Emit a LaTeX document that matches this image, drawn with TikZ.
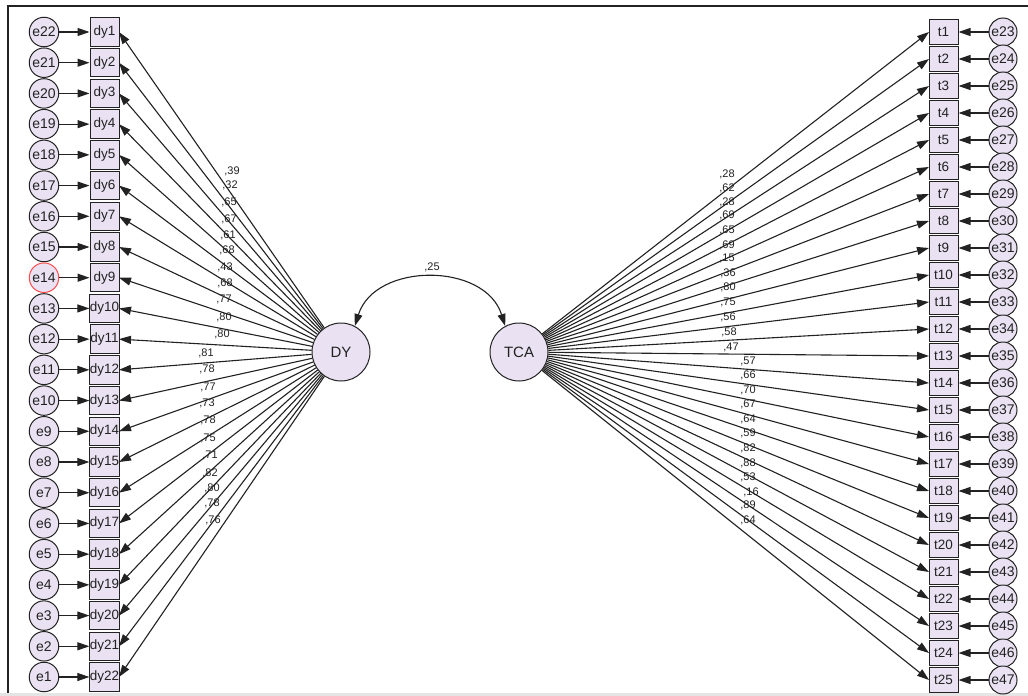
\documentclass[tikz,border=0pt]{standalone}
\usepackage{fontspec}
\setmainfont{Liberation Sans}
\usetikzlibrary{arrows.meta}
\definecolor{boxfill}{HTML}{EAE2F2}
\definecolor{ink}{HTML}{222222}
\begin{document}
\begin{tikzpicture}[x=1pt,y=-1pt,
  obs/.style={draw=ink, fill=boxfill, minimum width=29pt, minimum height=28.5pt, inner sep=0pt, text=ink, font=\fontsize{13.5}{13.5}\selectfont, line width=1pt},
  obsr/.style={obs, minimum height=25pt},
  err/.style={circle, draw=ink, fill=boxfill, minimum size=29.5pt, inner sep=0pt, text=ink, font=\fontsize{14}{14}\selectfont, line width=1pt},
  errr/.style={err, minimum size=28pt},
  lat/.style={circle, draw=ink, fill=boxfill, minimum size=58pt, inner sep=0pt, text=ink, font=\fontsize{15}{15}\selectfont, line width=1pt},
  arr/.style={-{Triangle[length=12pt,width=8pt]}, line width=1.1pt, draw=ink},
  cov/.style={{Triangle[length=12pt,width=8pt]}-{Triangle[length=12pt,width=8pt]}, line width=1.1pt, draw=ink},
  lbl/.style={font=\fontsize{11}{11}\selectfont, inner sep=0pt, text=ink}]
\useasboundingbox (0,0) rectangle (1028,696);
\fill[white] (0,0) rectangle (1028,696);
\draw[line width=1.5pt, ink] (8,693) -- (8,6) -- (1028,6);
\fill[black!10] (0,693) rectangle (1028,696);

% latent variables
\node[lat] (DY) at (341,352) {DY};
\node[lat] (TCA) at (519,352) {TCA};
\draw[cov] (DY.62) .. controls (375,262) and (485,262) .. (TCA.118);
\node[lbl] (c25) at (432,267) {,25};

% left block
\foreach \i in {1,...,22} {
  \pgfmathsetmacro\yy{32+(\i-1)*30.714}
  \pgfmathtruncatemacro\ee{23-\i}
  \ifnum\i=9 \def\ecol{red!70}\else\def\ecol{ink}\fi
  \draw[arr] (DY) -- (119,\yy);
  \node[obs] (dy\i) at (104.5,\yy) {dy\i};
  \node[err, draw=\ecol] (ea\i) at (44,\yy) {e\ee};
  \draw[arr] (ea\i) -- (dy\i);
}

% right block
\foreach \j in {1,...,25} {
  \pgfmathsetmacro\yy{32+(\j-1)*27}
  \pgfmathtruncatemacro\ee{22+\j}
  \draw[arr] (TCA) -- (929,\yy);
  \node[obsr] (t\j) at (943.5,\yy) {t\j};
  \node[errr] (eb\j) at (1003,\yy) {e\ee};
  \draw[arr] (eb\j) -- (t\j);
}

% left loadings
\foreach \k/\v/\lx/\ly in {1/{,39}/232/171, 2/{,32}/230/185, 3/{,65}/229/202, 4/{,67}/229/219,
  5/{,61}/228/235, 6/{,68}/227/250, 7/{,43}/225/267, 8/{,68}/225/283, 9/{,77}/224/299,
  10/{,80}/224/317, 11/{,80}/222/334, 12/{,81}/206/353, 13/{,78}/207/369, 14/{,77}/208/387,
  15/{,73}/207/403, 16/{,78}/208/420, 17/{,75}/208/438, 18/{,71}/210/455, 19/{,82}/210/473,
  20/{,80}/212/488, 21/{,78}/212/503, 22/{,76}/213/520} {
  \node[lbl] (la\k) at (\lx,\ly) {\v};
}

% right loadings
\foreach \k/\v/\lx/\ly in {1/{,28}/727/174, 2/{,62}/727/188, 3/{,28}/727/202, 4/{,69}/727/215,
  5/{,65}/727/230, 6/{,69}/727/245, 7/{,15}/727/258, 8/{,36}/728/273, 9/{,80}/728/287,
  10/{,75}/728/302, 11/{,56}/728/317, 12/{,58}/729/332, 13/{,47}/731/347, 14/{,57}/748/361,
  15/{,66}/748/375, 16/{,70}/748/390, 17/{,67}/748/404, 18/{,64}/748/419, 19/{,59}/748/433,
  20/{,82}/748/448, 21/{,88}/748/463, 22/{,53}/748/477, 23/{,16}/751/492, 24/{,89}/748/505,
  25/{,64}/748/520} {
  \node[lbl] (lb\k) at (\lx,\ly) {\v};
}
\end{tikzpicture}
\end{document}
